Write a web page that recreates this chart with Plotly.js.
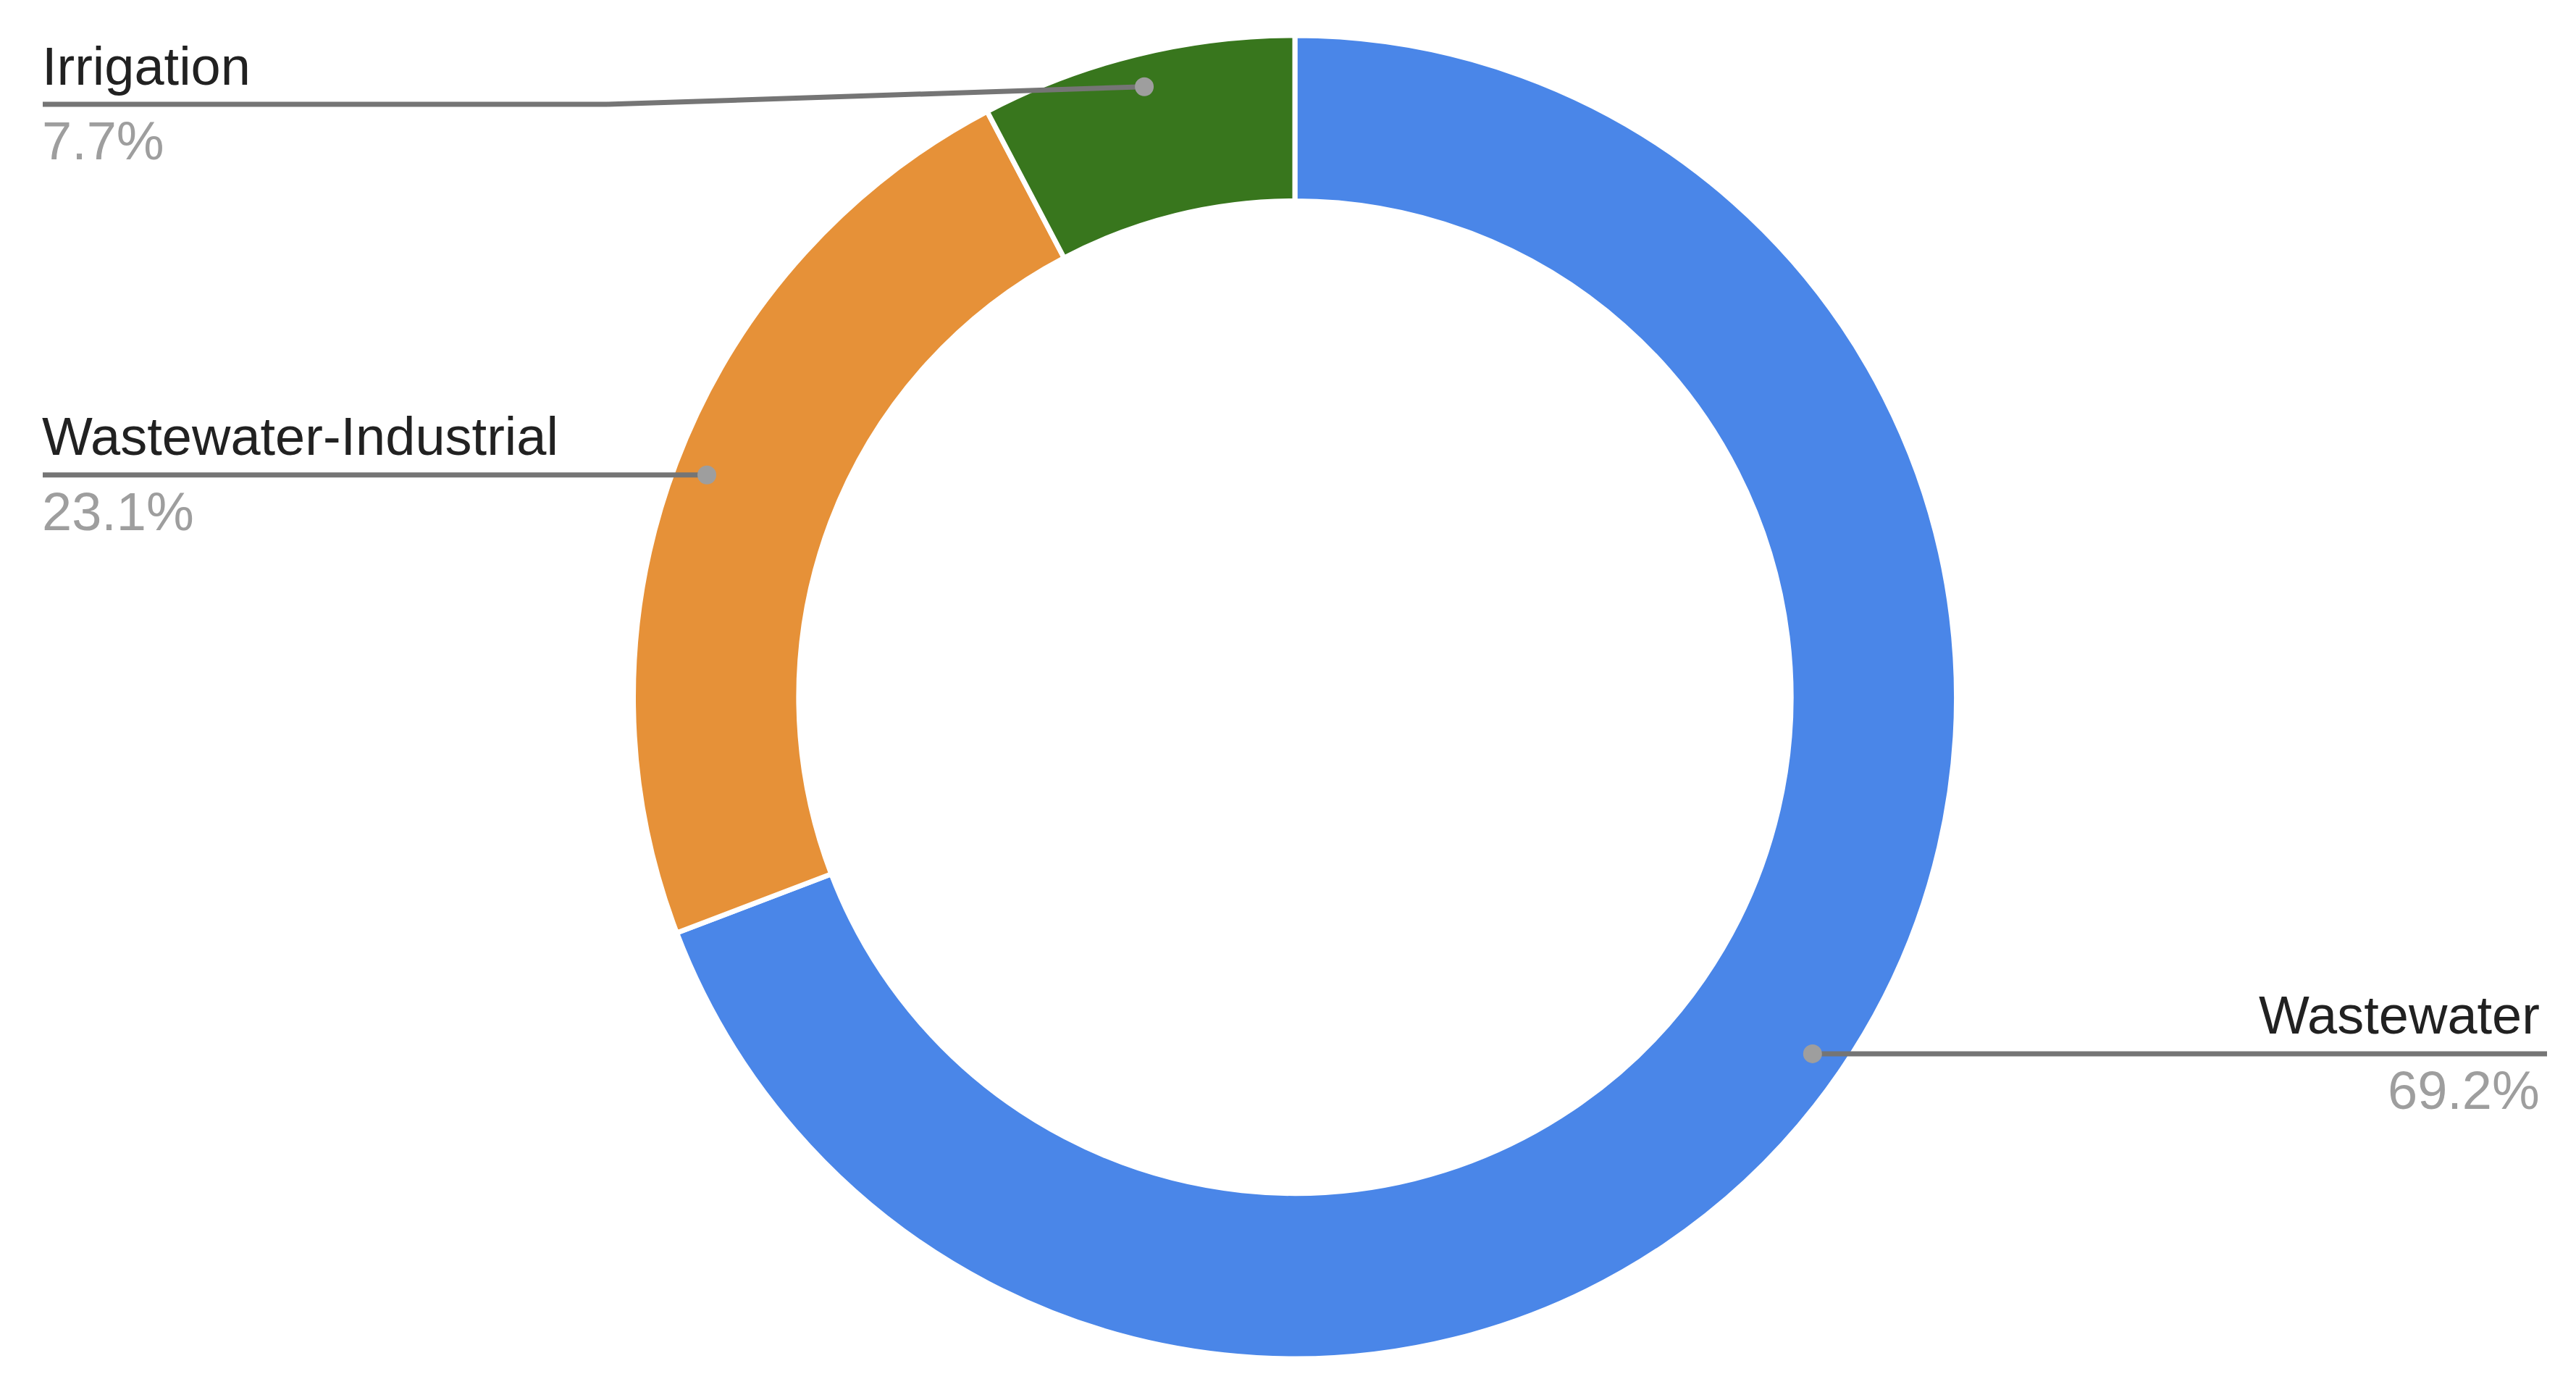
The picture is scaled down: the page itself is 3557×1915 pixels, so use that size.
<!DOCTYPE html>
<html>
<head>
<meta charset="utf-8">
<script src="https://cdn.plot.ly/plotly-3.0.1.min.js"></script>
<style>
html,body{margin:0;padding:0;background:#fff;}
#chart{width:3557px;height:1915px;}
</style>
</head>
<body>
<div id="chart"></div>
<script>
// ---- data ----
const categories = ['Wastewater', 'Wastewater-Industrial', 'Irrigation'];
const percentValues = [69.2, 23.1, 7.7];
const sliceColors = ['#4a86e8', '#e69138', '#38761d'];

// ---- layout constants (pixels) ----
const W = 3557, H = 1915;
const cx = 1788, cy = 962.5;     // donut centre
const strokeW = 7;
const R = 913.5;                 // pie radius (incl. half stroke)
const holeFrac = 0.75;
const dotR = 868;                // radius where leader dots sit
const leftX = 59, rightX = 3517; // ends of leader lines
const minLineY = 144;            // highest allowed label line
const elbowLeftX = 839;
const fontFam = '"Liberation Sans", Arial, Helvetica, sans-serif';
const fontSize = 74;
const lineColor = '#757575', dotColor = '#9e9e9e';
const labelColor = '#212121', pctColor = '#9e9e9e';

const px = x => x / W;
const py = y => 1 - y / H;

const total = percentValues.reduce((a, b) => a + b, 0);
const shapes = [], dots = [], annotations = [];
let cum = 0;
percentValues.forEach((v, i) => {
  const mid = (cum + v / 2) / total * 2 * Math.PI;
  cum += v;
  const dX = cx + Math.sin(mid) * dotR;
  const dY = cy - Math.cos(mid) * dotR;
  const right = Math.sin(mid) > 0;
  let lineY = dY;
  if (!right && dY < minLineY) {
    lineY = minLineY;
    shapes.push({type:'line', xref:'paper', yref:'paper',
      x0: px(dX), y0: py(dY), x1: px(elbowLeftX), y1: py(lineY),
      line:{color:lineColor, width:strokeW}});
    shapes.push({type:'line', xref:'paper', yref:'paper',
      x0: px(elbowLeftX), y0: py(lineY), x1: px(leftX), y1: py(lineY),
      line:{color:lineColor, width:strokeW}});
  } else {
    shapes.push({type:'line', xref:'paper', yref:'paper',
      x0: px(dX), y0: py(dY), x1: px(right ? rightX : leftX), y1: py(lineY),
      line:{color:lineColor, width:strokeW}});
  }
  const dr = 13;
  dots.push({type:'circle', xref:'paper', yref:'paper',
    x0: px(dX - dr), x1: px(dX + dr), y0: py(dY + dr), y1: py(dY - dr),
    fillcolor: dotColor, line:{width:0}});
  const ax = right ? rightX - 10 : leftX - 1;
  const anchor = right ? 'right' : 'left';
  annotations.push({xref:'paper', yref:'paper', x: px(ax), y: py(lineY - 53),
    xanchor: anchor, yanchor:'middle', showarrow:false, borderpad:0, borderwidth:0,
    text: categories[i], font:{family:fontFam, size:fontSize, color:labelColor}});
  annotations.push({xref:'paper', yref:'paper', x: px(ax), y: py(lineY + 51),
    xanchor: anchor, yanchor:'middle', showarrow:false, borderpad:0, borderwidth:0,
    text: v.toFixed(1) + '%', font:{family:fontFam, size:fontSize, color:pctColor}});
});

const trace = {
  type: 'pie',
  labels: categories,
  values: percentValues,
  hole: holeFrac,
  sort: false,
  direction: 'clockwise',
  rotation: 0,
  textinfo: 'none',
  hoverinfo: 'label+percent',
  marker: {colors: sliceColors, line: {color: '#ffffff', width: strokeW}},
  domain: {x: [px(cx - R), px(cx + R)], y: [py(cy + R), py(cy - R)]},
  showlegend: false
};

const layout = {
  width: W, height: H,
  margin: {l:0, r:0, t:0, b:0, pad:0},
  paper_bgcolor: '#ffffff',
  plot_bgcolor: '#ffffff',
  showlegend: false,
  shapes: shapes.concat(dots),
  annotations: annotations,
  font: {family: fontFam}
};

Plotly.newPlot('chart', [trace], layout, {displayModeBar:false, staticPlot:true});
</script>
</body>
</html>
